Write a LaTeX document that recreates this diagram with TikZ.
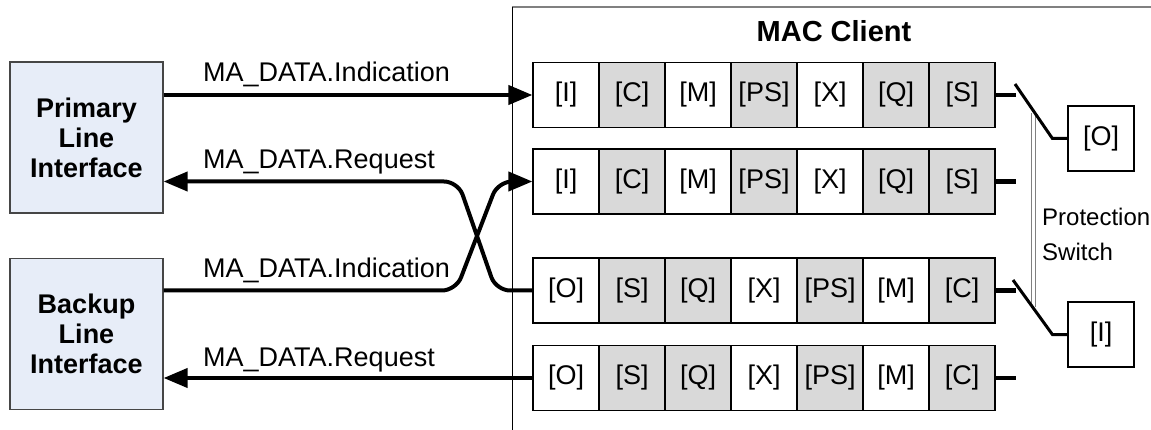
\documentclass[tikz,border=0pt]{standalone}
\usepackage{fontspec}
\setmainfont{Liberation Sans}
\usepackage{tikz}
\usetikzlibrary{arrows.meta,positioning,calc}
\definecolor{ifblue}{RGB}{231,237,248}
\definecolor{ifedge}{RGB}{70,70,70}
\definecolor{stgray}{RGB}{217,217,217}
\definecolor{frgray}{RGB}{128,128,128}
\newcommand{\madata}{MA\_DATA}

\begin{document}
\begin{tikzpicture}[
  x=1pt, y=-1pt,
  ifbox/.style={draw=ifedge, fill=ifblue, rectangle, minimum width=153pt, minimum height=151pt, align=center, line width=1.2pt, font=\fontsize{27}{30}\selectfont\bfseries},
  stage/.style={draw, rectangle, minimum width=66pt, minimum height=65pt, inner sep=0pt, line width=1.2pt, font=\fontsize{27}{30}\selectfont},
  lbl/.style={anchor=base west, inner sep=0pt, font=\fontsize{27}{30}\selectfont},
  >={Triangle[length=24pt,width=19pt]},
  arrline/.style={->, line width=4pt},
  stub/.style={line width=4.5pt},
  arm/.style={line width=3pt},
]
\useasboundingbox (0,0) rectangle (1151,430);
% line interfaces
\node[ifbox] (prim) at (86.5,137.5) {Primary\\Line\\Interface};
\node[ifbox] (back) at (86.5,334) {Backup\\Line\\Interface};
% MAC client frame
\draw[frgray, line width=1.5pt] (512,7) -- (1151,7);
\draw[line width=1pt] (512,7) -- (512,430);
\node[font=\fontsize{29}{32}\selectfont\bfseries, anchor=base] (title) at (834,42) {MAC Client};
% stage chains
\foreach \lab/\fil [count=\k] in {I/white,C/stgray,M/white,PS/stgray,X/white,Q/stgray,S/stgray}{
  \node[stage, fill=\fil] (inA-\k) at (500+66*\k,95) {[\lab]};
  \node[stage, fill=\fil] (inB-\k) at (500+66*\k,181.5) {[\lab]};
}
\foreach \lab/\fil [count=\k] in {O/white,S/stgray,Q/stgray,X/white,PS/stgray,M/white,C/stgray}{
  \node[stage, fill=\fil] (outA-\k) at (500+66*\k,290.5) {[\lab]};
  \node[stage, fill=\fil] (outB-\k) at (500+66*\k,378) {[\lab]};
}
\foreach \r in {inA,inB,outA,outB}{
  \coordinate (\r-end) at ($(\r-7.east)+(20,0)$);
  \draw[stub] (\r-7.east) -- (\r-end);
}
% protection switch
\node[stage] (outsel) at (1101,138.5) {[O]};
\node[stage] (insel) at (1101,334.5) {[I]};
\coordinate (pstop) at (1033.5,113);
\coordinate (psbot) at (1033.5,307);
\draw[frgray, line width=0.8pt, double=white, double distance=3.5pt] (pstop) -- (psbot);
\coordinate (armA) at (1015,84);
\coordinate (armB) at (1013,280);
\draw[arm] (armA) -- ([xshift=-15pt]outsel.west) -- (outsel.west);
\draw[arm] (armB) -- ([xshift=-15pt]insel.west) -- (insel.west);
\node[font=\fontsize{24}{35}\selectfont, align=left, anchor=west, inner sep=0pt] (pslbl) at (1042,234) {Protection\\Switch};
% primitives
\draw[arrline] (prim.east |- inA-1.west) -- (inA-1.west);
\draw[arrline, rounded corners=14pt] (outA-1.west) -- (496,290.5) -- (458,181.5) -- (prim.east |- inB-1.west);
\draw[arrline, rounded corners=14pt] (back.east |- outA-1.west) -- (456,290.5) -- (498,181.5) -- (inB-1.west);
\draw[arrline] (outB-1.west) -- (back.east |- outB-1.west);
\node[lbl] (indA) at (203,82) {\madata.Indication};
\node[lbl] (reqA) at (203,169) {\madata.Request};
\node[lbl] (indB) at (203,278) {\madata.Indication};
\node[lbl] (reqB) at (203,366) {\madata.Request};
\end{tikzpicture}
\end{document}
